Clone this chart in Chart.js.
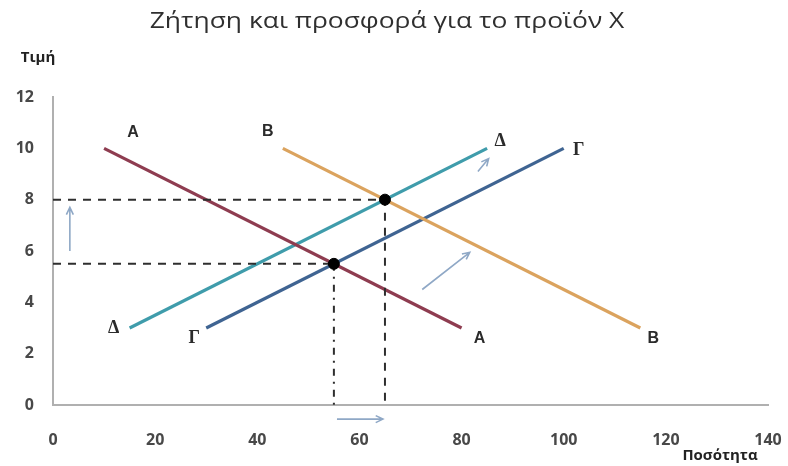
<!DOCTYPE html>
<html>
<head>
<meta charset="utf-8">
<script src="https://cdn.jsdelivr.net/npm/chart.js@4/dist/chart.umd.min.js"></script>
<style>
  html, body { margin: 0; padding: 0; background: #ffffff; }
  #wrap { width: 788px; height: 466px; }
</style>
</head>
<body>
<div id="wrap"><canvas id="c" width="788" height="466"></canvas></div>
<script>
// Demand curves A, B and supply curves Δ, Γ (quantity, price)
const aQty = [10, 80];
const aPrice = [10, 3];
const bQty = [45, 115];
const bPrice = [10, 3];
const dQty = [15, 85];
const dPrice = [3, 10];
const gQty = [30, 100];
const gPrice = [3, 10];

// Equilibrium points
const eqQty = [55, 65];
const eqPrice = [5.5, 8];

// Axis ticks
const xTicks = [0, 20, 40, 60, 80, 100, 120, 140];
const yTicks = [0, 2, 4, 6, 8, 10, 12];

const chartTitle = 'Ζήτηση και προσφορά για το προϊόν X';
const xTitle = 'Ποσότητα';
const yTitle = 'Τιμή';

const toPts = (xs, ys) => xs.map((x, i) => ({ x: x, y: ys[i] }));

const curves = [
  { name: 'A', qty: aQty, price: aPrice, color: '#8e3c50' },
  { name: 'B', qty: bQty, price: bPrice, color: '#dba35e' },
  { name: 'Δ', qty: dQty, price: dPrice, color: '#3f9cab' },
  { name: 'Γ', qty: gQty, price: gPrice, color: '#3f6492' }
];

const datasets = [];

// Equilibrium dots, kept on top of the curves
datasets.push({
  label: 'equilibrium',
  data: toPts(eqQty, eqPrice),
  backgroundColor: '#000000', borderColor: '#000000',
  pointRadius: 5.5, showLine: false, order: 0
});

curves.forEach(c => datasets.push({
  label: c.name,
  data: toPts(c.qty, c.price),
  borderColor: c.color,
  borderWidth: 3.2,
  pointRadius: 0,
  showLine: true,
  fill: false,
  order: 2
}));

// Guide lines from the equilibrium points to the axes
datasets.push({
  label: 'guideHigh',
  data: [{ x: 0, y: eqPrice[1] }, { x: eqQty[1], y: eqPrice[1] }, { x: eqQty[1], y: 0 }],
  borderColor: '#2e2e2e', borderWidth: 2, borderDash: [8, 7],
  pointRadius: 0, showLine: true, fill: false, order: 1
});
datasets.push({
  label: 'guideLowH',
  data: [{ x: 0, y: eqPrice[0] }, { x: eqQty[0], y: eqPrice[0] }],
  borderColor: '#2e2e2e', borderWidth: 2, borderDash: [8, 7],
  pointRadius: 0, showLine: true, fill: false, order: 1
});
datasets.push({
  label: 'guideLowV',
  data: [{ x: eqQty[0], y: eqPrice[0] }, { x: eqQty[0], y: 0 }],
  borderColor: '#2e2e2e', borderWidth: 2, borderDash: [7, 6, 2, 6],
  pointRadius: 0, showLine: true, fill: false, order: 1
});

// Shift arrows (quantity, price) from → to
const arrows = [
  { from: [3.3, 6.0], to: [3.3, 7.7] },
  { from: [55.6, -0.55], to: [64.6, -0.55] },
  { from: [72.3, 4.5], to: [81.6, 5.95] },
  { from: [83.2, 9.1], to: [85.3, 9.6] }
];

// Curve-end labels: [curve index, end index, dx, dy, font]
const endLabels = [
  [0, 0, 29, -16, 'bold 16px "Liberation Sans"'],
  [0, 1, 18, 11, 'bold 16px "Liberation Sans"'],
  [1, 0, -15, -17, 'bold 16px "Liberation Sans"'],
  [1, 1, 13, 11, 'bold 16px "Liberation Sans"'],
  [2, 0, -16, 0, 'bold 18px "Liberation Serif"'],
  [2, 1, 13, -7, 'bold 18px "Liberation Serif"'],
  [3, 0, -12, 10, 'bold 18px "Liberation Serif"'],
  [3, 1, 15, 2, 'bold 18px "Liberation Serif"']
];

// Draws text stretched horizontally by sx around its centre
function wideText(ctx, text, x, y, sx) {
  ctx.save();
  ctx.translate(x, y);
  ctx.scale(sx, 1);
  ctx.fillText(text, 0, 0);
  ctx.restore();
}

const decorations = {
  id: 'decorations',
  afterDraw(chart) {
    const ctx = chart.ctx;
    const xs = chart.scales.x, ys = chart.scales.y;
    ctx.save();

    // arrows
    ctx.strokeStyle = '#8fa8c6';
    ctx.lineWidth = 1.6;
    arrows.forEach(a => {
      const x1 = xs.getPixelForValue(a.from[0]), y1 = ys.getPixelForValue(a.from[1]);
      const x2 = xs.getPixelForValue(a.to[0]), y2 = ys.getPixelForValue(a.to[1]);
      const ang = Math.atan2(y2 - y1, x2 - x1);
      const h = 8;
      ctx.beginPath();
      ctx.moveTo(x1, y1); ctx.lineTo(x2, y2);
      ctx.moveTo(x2 - h * Math.cos(ang - 0.45), y2 - h * Math.sin(ang - 0.45));
      ctx.lineTo(x2, y2);
      ctx.lineTo(x2 - h * Math.cos(ang + 0.45), y2 - h * Math.sin(ang + 0.45));
      ctx.stroke();
    });

    // curve labels
    ctx.fillStyle = '#2b2b2b';
    ctx.textAlign = 'center';
    ctx.textBaseline = 'middle';
    endLabels.forEach(([ci, ei, dx, dy, font]) => {
      const c = curves[ci];
      ctx.font = font;
      ctx.fillText(c.name, xs.getPixelForValue(c.qty[ei]) + dx, ys.getPixelForValue(c.price[ei]) + dy);
    });

    // titles
    ctx.fillStyle = '#2f2f2f';
    ctx.font = '22px "Open Sans"';
    wideText(ctx, chartTitle, 387, 22, 1.2);
    ctx.font = 'bold 15px "Open Sans"';
    ctx.fillStyle = '#222222';
    wideText(ctx, yTitle, 38, 58, 1.0);
    wideText(ctx, xTitle, 720, 456, 1.0);
    ctx.restore();
  }
};

new Chart(document.getElementById('c'), {
  type: 'scatter',
  data: { datasets: datasets },
  options: {
    responsive: false,
    animation: false,
    layout: { padding: { top: 97, right: 20, bottom: 0, left: 0 } },
    plugins: { legend: { display: false }, tooltip: { enabled: false }, title: { display: false } },
    scales: {
      x: {
        type: 'linear', min: 0, max: 140,
        afterBuildTicks: s => { s.ticks = xTicks.map(v => ({ value: v })); },
        afterFit: s => { s.height = 61; s.paddingLeft = 0; s.paddingRight = 0; },
        grid: { display: false, drawTicks: false },
        border: { color: '#b0b0b0', width: 2 },
        ticks: { padding: 26, color: '#484848', font: { family: 'Open Sans', size: 16, weight: 'bold' } }
      },
      y: {
        type: 'linear', min: 0, max: 12,
        afterBuildTicks: s => { s.ticks = yTicks.map(v => ({ value: v })); },
        afterFit: s => { s.width = 53; s.paddingTop = 0; s.paddingBottom = 0; },
        grid: { display: false, drawTicks: false },
        border: { color: '#b0b0b0', width: 2 },
        ticks: { padding: 19, color: '#484848', font: { family: 'Open Sans', size: 16, weight: 'bold' } }
      }
    }
  },
  plugins: [decorations]
});
</script>
</body>
</html>
